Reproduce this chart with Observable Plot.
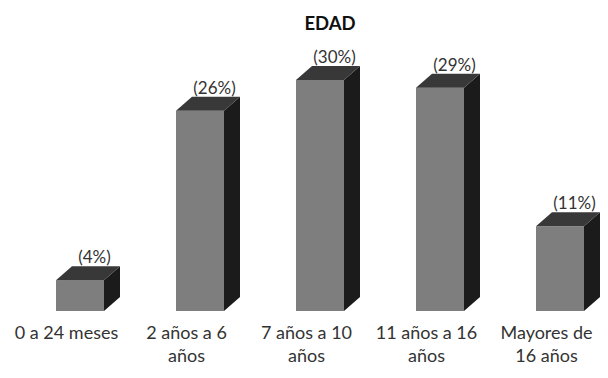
<!DOCTYPE html>
<html><head><meta charset="utf-8">
<script src="https://cdn.jsdelivr.net/npm/d3@7"></script>
<script src="https://cdn.jsdelivr.net/npm/@observablehq/plot@0.6"></script>
<style>
body{margin:0;background:#fff;}
#wrap{position:relative;width:608px;height:378px;}
#title{position:absolute;left:0;top:12px;width:608px;box-sizing:border-box;padding-left:52px;text-align:center;font-family:Lato,"Open Sans",sans-serif;font-weight:bold;font-size:18.5px;color:#111;}
</style>
</head><body>
<div id="wrap"><div id="title"></div><div id="chart"></div></div>
<script>
const title = "EDAD";
const categories = ["0 a 24 meses", "2 años a 6 años", "7 años a 10 años", "11 años a 16 años", "Mayores de 16 años"];
const tickLabels = ["0 a 24 meses", "2 años a 6\naños", "7 años a 10\naños", "11 años a 16\naños", "Mayores de\n16 años"];
const values = [4, 26, 30, 29, 11];
const valueLabels = ["(4%)", "(26%)", "(30%)", "(29%)", "(11%)"];

const data = categories.map((c, i) => ({cat: c, value: values[i], label: valueLabels[i], tick: tickLabels[i]}));

document.getElementById("title").textContent = title;

const W = 608, H = 378;
const insetL = 50, insetR = 22;
const depthX = 16, depthY = 14;
const FRONT = "#7e7e7e", TOP = "#383838", SIDE = "#1b1b1b";
const FONT = "Lato, 'Open Sans', sans-serif";

function faces(index, scales, vals, dimensions, context, next) {
  const g = next(index, scales, vals, dimensions, context);
  const n = categories.length;
  const bw = (scales.x && scales.x.bandwidth) ? scales.x.bandwidth() : (dimensions.width - dimensions.marginLeft - dimensions.marginRight) / n;
  const ns = "http://www.w3.org/2000/svg";
  for (const i of index) {
    const xl = vals.x[i] + insetL;
    const xr = vals.x[i] + bw - insetR;
    const yt = Math.min(vals.y1[i], vals.y2[i]);
    const yb = Math.max(vals.y1[i], vals.y2[i]);
    const side = document.createElementNS(ns, "path");
    side.setAttribute("d", `M${xr},${yt}L${xr + depthX},${yt - depthY}L${xr + depthX},${yb - depthY}L${xr},${yb}Z`);
    side.setAttribute("fill", SIDE);
    g.appendChild(side);
    const top = document.createElementNS(ns, "path");
    top.setAttribute("d", `M${xl},${yt}L${xl + depthX},${yt - depthY}L${xr + depthX},${yt - depthY}L${xr},${yt}Z`);
    top.setAttribute("fill", TOP);
    g.appendChild(top);
  }
  return g;
}

const chart = Plot.plot({
  width: W,
  height: H,
  marginTop: 80,
  marginBottom: 67,
  marginLeft: 4,
  marginRight: 1,
  style: {fontFamily: FONT, background: "transparent"},
  x: {domain: categories, padding: 0, axis: null},
  y: {domain: [0, 30], axis: null},
  marks: [
    Plot.barY(data, {x: "cat", y: "value", fill: FRONT, insetLeft: insetL, insetRight: insetR, render: faces}),
    Plot.text(data, {x: "cat", y: "value", text: "label", dx: 28, dy: -23, fontSize: 17, fill: "#333"}),
    Plot.text(data, {x: "cat", text: "tick", frameAnchor: "bottom", lineAnchor: "top", dy: 10, lineHeight: 1.33, fontSize: 18, fill: "#333"})
  ]
});
document.getElementById("chart").appendChild(chart);
</script>
</body></html>
